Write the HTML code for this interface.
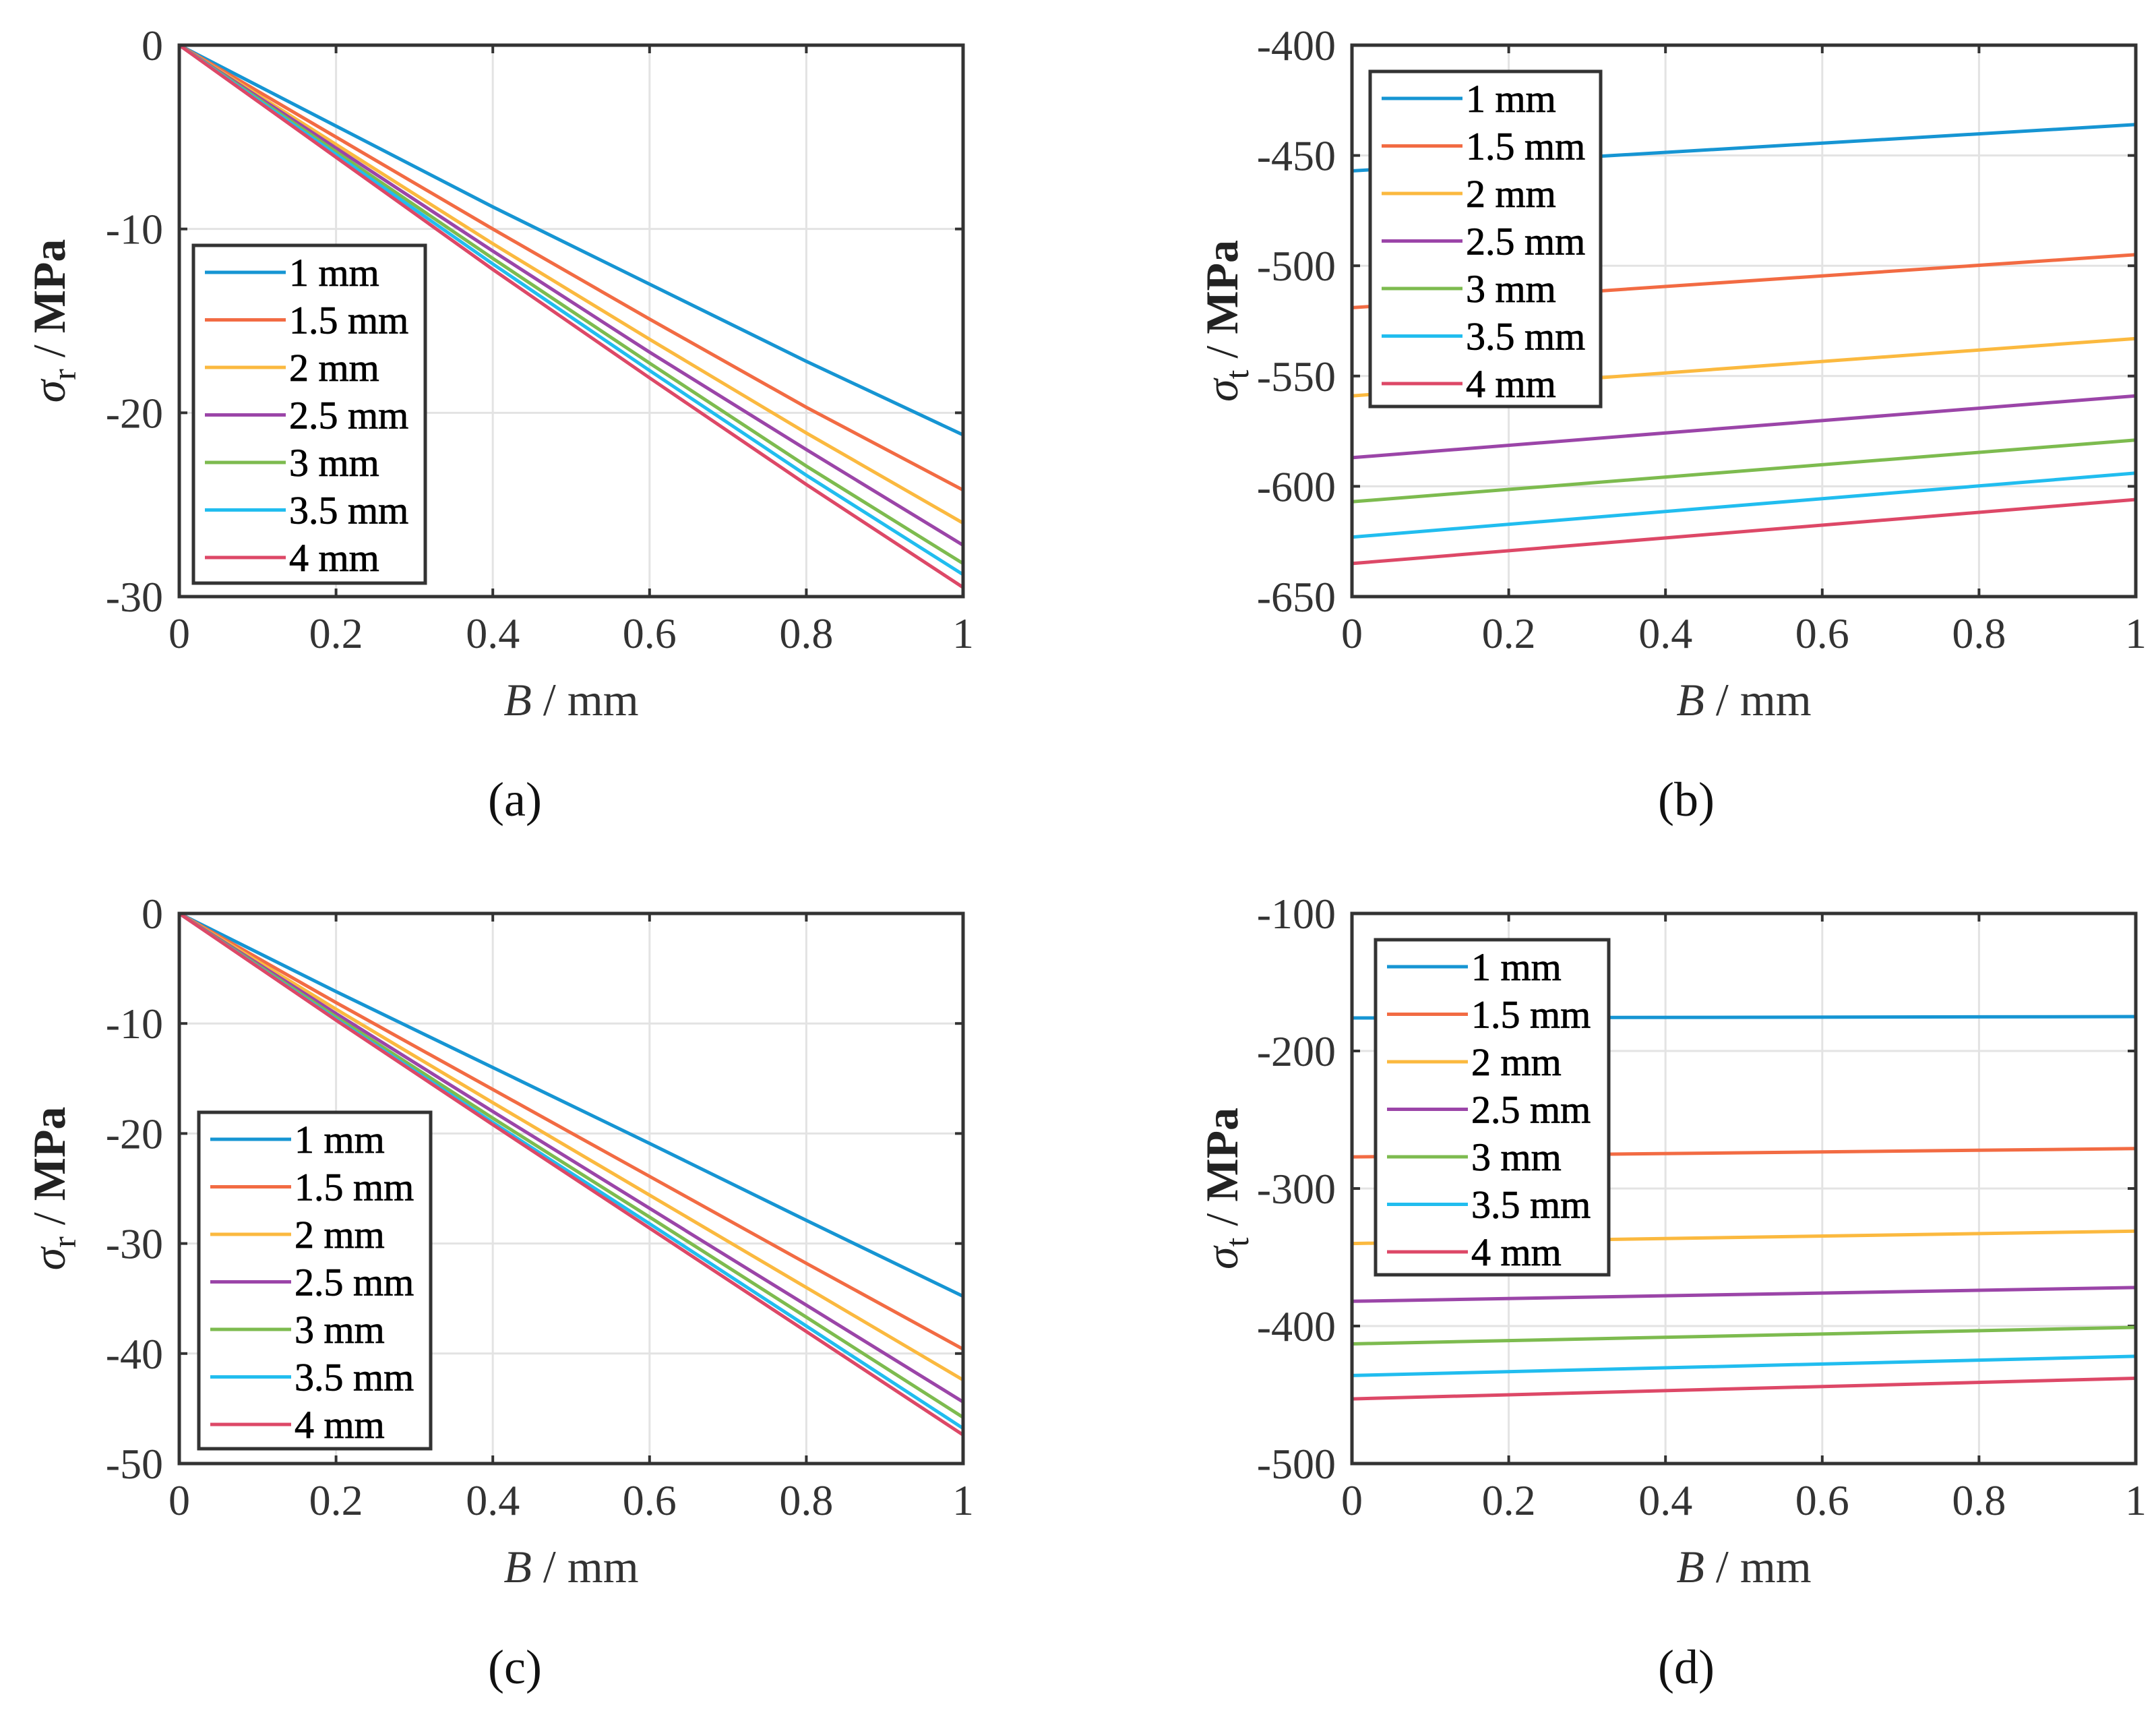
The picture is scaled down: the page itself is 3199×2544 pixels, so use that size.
<!DOCTYPE html>
<html><head><meta charset="utf-8">
<style>
html,body{margin:0;padding:0;background:#fff;}
svg{display:block;font-family:"Liberation Serif",serif;}
</style></head>
<body>
<svg id="fig" width="3199" height="2544" viewBox="0 0 3199 2544" xmlns="http://www.w3.org/2000/svg"></svg>
<script>
const seriesNames = ["1 mm","1.5 mm","2 mm","2.5 mm","3 mm","3.5 mm","4 mm"];
const colors = ["#1695d3","#f26b43","#fbb93f","#9b45a8","#7dbb4f","#21bdef","#dd4867"];
const xTicks = [0,0.2,0.4,0.6,0.8,1];
const xTickLabels = ["0","0.2","0.4","0.6","0.8","1"];
const xsCurve = [0,0.2,0.4,0.6,0.8,1];
const xsLine = [0,1];
// panel a: sigma_r
const aTicks = [0,-10,-20,-30];
const aValues = [
 [0,-4.4,-8.8,-13.0,-17.2,-21.2],
 [0,-5.0,-10.0,-14.9,-19.7,-24.2],
 [0,-5.4,-10.8,-16.0,-21.1,-26.0],
 [0,-5.6,-11.2,-16.7,-22.0,-27.2],
 [0,-5.8,-11.6,-17.3,-22.9,-28.2],
 [0,-5.95,-11.9,-17.7,-23.4,-28.8],
 [0,-6.1,-12.2,-18.1,-23.9,-29.5]
];
// panel b: sigma_t
const bTicks = [-400,-450,-500,-550,-600,-650];
const bValues = [
 [-457,-436],[-519,-495],[-559,-533],[-587,-559],[-607,-579],[-623,-594],[-635,-606]
];
// panel c: sigma_r
const cTicks = [0,-10,-20,-30,-40,-50];
const cValues = [
 [0,-7.1,-14.0,-20.9,-27.9,-34.8],
 [0,-8.1,-16.0,-23.9,-31.8,-39.6],
 [0,-8.7,-17.2,-25.6,-34.0,-42.4],
 [0,-9.1,-18.0,-26.8,-35.6,-44.4],
 [0,-9.4,-18.6,-27.6,-36.7,-45.8],
 [0,-9.6,-19.0,-28.2,-37.5,-46.8],
 [0,-9.7,-19.2,-28.6,-38.0,-47.4]
];
// panel d: sigma_t
const dTicks = [-100,-200,-300,-400,-500];
const dValues = [
 [-176,-175],[-277,-271],[-340,-331],[-382,-372],[-413,-401],[-436,-422],[-453,-438]
];

const NS="http://www.w3.org/2000/svg";
const svg=document.getElementById('fig');
function mk(tag,attrs,parent){const e=document.createElementNS(NS,tag);for(const k in attrs)e.setAttribute(k,attrs[k]);(parent||svg).appendChild(e);return e;}

function panel(id,L,R,T,B,yTicks,yMin,yMax,xs,vals,sub,leg,cap,capX,capY){
  const g=mk('g',{});
  
  
  const sx=v=>L+(v-0)/(1-0)*(R-L);
  const sy=v=>T+(yMax-v)/(yMax-yMin)*(B-T);
  xTicks.forEach((t,i)=>{
    const x=sx(t);
    if(i>0&&i<xTicks.length-1){const gl=mk('line',{x1:x,x2:x,y1:T,y2:B,stroke:'#e3e3e3','stroke-width':3},g);
      }
    const tk=mk('line',{x1:x,x2:x,y1:B,y2:B-12,stroke:'#333','stroke-width':4},g);
    
    const tk2=mk('line',{x1:x,x2:x,y1:T,y2:T+12,stroke:'#333','stroke-width':4},g);
    
    const tl=mk('text',{x:x,y:B+76,'text-anchor':'middle','font-size':64,fill:'#333'},g);
    tl.textContent=xTickLabels[i];
    
  });
  yTicks.forEach((t,i)=>{
    const y=sy(t);
    if(i>0&&i<yTicks.length-1){const gl=mk('line',{x1:L,x2:R,y1:y,y2:y,stroke:'#e3e3e3','stroke-width':3},g);
      }
    const tk=mk('line',{x1:L,x2:L+12,y1:y,y2:y,stroke:'#333','stroke-width':4},g);
    
    const tk2=mk('line',{x1:R,x2:R-12,y1:y,y2:y,stroke:'#333','stroke-width':4},g);
    
    const tl=mk('text',{x:L-24,y:y+22,'text-anchor':'end','font-size':64,fill:'#333'},g);
    tl.textContent=String(t);
    
  });
  vals.forEach((s,i)=>{
    const d=s.map((v,j)=>(j?'L':'M')+sx(xs[j]).toFixed(1)+' '+sy(v).toFixed(1)).join(' ');
    const p=mk('path',{d:d,fill:'none',stroke:colors[i],'stroke-width':5},g);
    
    
  });
  const box=mk('rect',{x:L,y:T,width:R-L,height:B-T,fill:'none',stroke:'#333','stroke-width':5},g);
  
  const lg=mk('g',{},g);
  
  const lr=mk('rect',{x:leg.x,y:leg.y,width:leg.w,height:leg.h,fill:'#fff',stroke:'#333','stroke-width':5},lg);
  
  seriesNames.forEach((n,i)=>{
    const y=leg.y+40+i*70.5;
    const ll=mk('line',{x1:leg.x+17,x2:leg.x+137,y1:y,y2:y,stroke:colors[i],'stroke-width':5},lg);
    
    const lt=mk('text',{x:leg.x+142,y:y+20,'font-size':58,fill:'#000','stroke':'#000','stroke-width':0.8},lg);
    lt.textContent=n;
    
  });
  const xl=mk('text',{x:(L+R)/2,y:B+176,'text-anchor':'middle','font-size':68,fill:'#333'},g);
  xl.innerHTML='<tspan font-style="italic">B</tspan> / mm';
  
  const cy=(T+B)/2;
  const yl=mk('text',{x:0,y:0,'text-anchor':'middle','font-size':68,fill:'#222',transform:`translate(${L-170},${cy}) rotate(-90)`},g);
  yl.innerHTML='<tspan font-style="italic">σ</tspan><tspan font-size="50" dy="16">'+sub+'</tspan><tspan dy="-16"> / </tspan><tspan font-weight="bold">MPa</tspan>';
  
  const c=mk('text',{x:capX,y:capY,'text-anchor':'middle','font-size':72,fill:'#111'},g);
  c.textContent=cap;
  
}
panel('a',266,1429,67,885,aTicks,-30,0,xsCurve,aValues,'r',{x:287,y:364,w:344,h:501},'(a)',764,1210);
panel('b',2006,3169,67,885,bTicks,-650,-400,xsLine,bValues,'t',{x:2033,y:106,w:342,h:497},'(b)',2502,1210);
panel('c',266,1429,1355,2171,cTicks,-50,0,xsCurve,cValues,'r',{x:295,y:1650,w:344,h:499},'(c)',764,2497);
panel('d',2006,3169,1355,2171,dTicks,-500,-100,xsLine,dValues,'t',{x:2041,y:1394,w:346,h:497},'(d)',2502,2497);
</script>
</body></html>
